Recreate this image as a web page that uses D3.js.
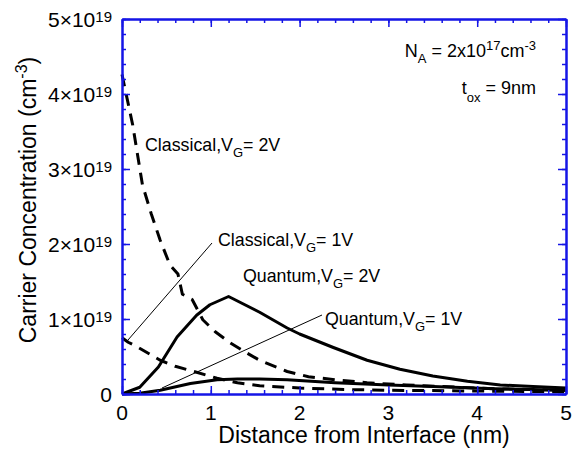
<!DOCTYPE html>
<html><head><meta charset="utf-8">
<script src="https://cdn.jsdelivr.net/npm/d3@7"></script>
<style>body{margin:0;background:#fff}svg{display:block}text{font-family:"Liberation Sans",Arial,sans-serif;fill:#000}</style>
</head><body>
<script>
// Data (x in nm, y in units of 1e19 cm^-3)
const classical2V_x = [0, 0.12, 0.23, 0.33, 0.43, 0.54, 0.63, 0.68, 0.79, 0.91, 1.05, 1.22, 1.4, 1.55, 1.86, 2.1, 2.4, 2.76, 3.2, 3.6, 4.2, 5.0];
const classical2V_y = [4.26, 3.59, 2.79, 2.4, 2.05, 1.72, 1.6, 1.33, 1.26, 0.99, 0.83, 0.68, 0.55, 0.45, 0.3, 0.23, 0.19, 0.15, 0.12, 0.1, 0.07, 0.05];
const classical1V_x = [0, 0.07, 0.17, 0.3, 0.43, 0.6, 0.84, 1.07, 1.3, 1.55, 2.0, 2.5, 3.0, 4.0, 5.0];
const classical1V_y = [0.75, 0.69, 0.63, 0.54, 0.45, 0.37, 0.29, 0.21, 0.15, 0.11, 0.08, 0.06, 0.05, 0.04, 0.03];
const quantum2V_x = [0, 0.2, 0.41, 0.62, 0.84, 0.99, 1.2, 1.55, 1.86, 2.0, 2.38, 2.76, 3.13, 3.5, 3.89, 4.26, 4.63, 5.0];
const quantum2V_y = [0, 0.09, 0.36, 0.76, 1.05, 1.19, 1.3, 1.09, 0.88, 0.8, 0.62, 0.45, 0.33, 0.24, 0.17, 0.12, 0.1, 0.08];
const quantum1V_x = [0, 0.2, 0.43, 0.77, 1.07, 1.3, 1.55, 1.86, 2.4, 3.0, 3.5, 4.2, 5.0];
const quantum1V_y = [0, 0.01, 0.05, 0.14, 0.19, 0.2, 0.2, 0.19, 0.15, 0.12, 0.1, 0.07, 0.05];
const xTicks = [0, 1, 2, 3, 4, 5];
const yTicks = [0, 1, 2, 3, 4, 5];
const yTickExp = "19";

const W = 579, H = 453;
const m = {left: 122, right: 566, top: 19, bottom: 394};
const x = d3.scaleLinear().domain([0, 5]).range([m.left, m.right]);
const y = d3.scaleLinear().domain([0, 5]).range([m.bottom, m.top]);

const svg = d3.select("body").append("svg").attr("width", W).attr("height", H);

const line = d3.line().x(d => x(d[0])).y(d => y(d[1]));
function draw(xs, ys, dashed) {
  svg.append("path").datum(xs.map((v, i) => [v, ys[i]]))
    .attr("d", line).attr("fill", "none").attr("stroke", "#000")
    .attr("stroke-width", 3).attr("stroke-linejoin", "round")
    .attr("stroke-dasharray", dashed ? "12,8" : null);
}
draw(classical2V_x, classical2V_y, true);
draw(classical1V_x, classical1V_y, true);
draw(quantum2V_x, quantum2V_y, false);
draw(quantum1V_x, quantum1V_y, false);

// Axes (blue frame with inward ticks)
const blue = "#1515e6";
const minorX = d3.range(0, 5.0001, 0.2), minorY = d3.range(0, 5.0001, 0.2);
function ax(gen, tr) {
  const g = svg.append("g").attr("transform", tr).call(gen);
  g.selectAll("path").attr("stroke", blue).attr("stroke-width", 2);
  g.selectAll("line").attr("stroke", blue).attr("stroke-width", 1.5);
  g.selectAll("text").remove();
  return g;
}
ax(d3.axisBottom(x).tickValues(minorX).tickSizeInner(-4).tickSizeOuter(0), `translate(0,${m.bottom})`);
ax(d3.axisBottom(x).tickValues(xTicks).tickSizeInner(-8).tickSizeOuter(0), `translate(0,${m.bottom})`);
ax(d3.axisTop(x).tickValues(minorX).tickSizeInner(-4).tickSizeOuter(0), `translate(0,${m.top})`);
ax(d3.axisTop(x).tickValues(xTicks).tickSizeInner(-8).tickSizeOuter(0), `translate(0,${m.top})`);
ax(d3.axisLeft(y).tickValues(minorY).tickSizeInner(-4).tickSizeOuter(0), `translate(${m.left},0)`);
ax(d3.axisLeft(y).tickValues(yTicks).tickSizeInner(-8).tickSizeOuter(0), `translate(${m.left},0)`);
ax(d3.axisRight(y).tickValues(minorY).tickSizeInner(-4).tickSizeOuter(0), `translate(${m.right},0)`);
ax(d3.axisRight(y).tickValues(yTicks).tickSizeInner(-8).tickSizeOuter(0), `translate(${m.right},0)`);

// tick labels
const fs = 21;
xTicks.forEach(v => {
  svg.append("text").attr("x", x(v)).attr("y", 420).attr("text-anchor", "middle")
    .attr("font-size", fs).text(v);
});
yTicks.forEach(v => {
  const t = svg.append("text").attr("x", m.left - 10).attr("y", y(v) + 7.5).attr("text-anchor", "end").attr("font-size", fs);
  if (v === 0) { t.text("0"); return; }
  t.append("tspan").text(v + "\u00d710");
  t.append("tspan").attr("dy", -5).attr("font-size", 15).text(yTickExp);
});

// axis titles
svg.append("text").attr("x", 364).attr("y", 443).attr("text-anchor", "middle")
  .attr("font-size", 23).text("Distance from Interface (nm)");
const yt = svg.append("text").attr("transform", `translate(36,200) rotate(-90)`)
  .attr("text-anchor", "middle").attr("font-size", 23);
yt.append("tspan").text("Carrier Concentration (cm");
yt.append("tspan").attr("dy", -9).attr("font-size", 16).text("-3");
yt.append("tspan").attr("dy", 9).text(")");

// annotations
function label(px, py, main, sub, rest) {
  const t = svg.append("text").attr("x", px).attr("y", py).attr("font-size", 17.8);
  t.append("tspan").text(main);
  t.append("tspan").attr("dy", 6).attr("font-size", 13).text(sub);
  t.append("tspan").attr("dy", -6).text(rest);
  return t;
}
label(145, 151, "Classical,V", "G", "= 2V");
label(218, 246, "Classical,V", "G", "= 1V");
label(243, 282, "Quantum,V", "G", "= 2V");
label(325, 325, "Quantum,V", "G", "= 1V");

// leader lines
svg.append("line").attr("x1", 128).attr("y1", 340).attr("x2", 212).attr("y2", 243).attr("stroke", "#000").attr("stroke-width", 1);
svg.append("line").attr("x1", 162).attr("y1", 388).attr("x2", 322).attr("y2", 315).attr("stroke", "#000").attr("stroke-width", 1);

// parameters
const na = svg.append("text").attr("x", 536).attr("y", 57).attr("text-anchor", "end").attr("font-size", 18);
na.append("tspan").text("N");
na.append("tspan").attr("dy", 6).attr("font-size", 13).text("A");
na.append("tspan").attr("dy", -6).text(" = 2x10");
na.append("tspan").attr("dy", -7).attr("font-size", 13).text("17");
na.append("tspan").attr("dy", 7).text("cm");
na.append("tspan").attr("dy", -7).attr("font-size", 13).text("-3");
const tox = svg.append("text").attr("x", 536).attr("y", 94).attr("text-anchor", "end").attr("font-size", 18);
tox.append("tspan").text("t");
tox.append("tspan").attr("dy", 8).attr("font-size", 13).text("ox");
tox.append("tspan").attr("dy", -8).text(" = 9nm");
</script>
</body></html>
